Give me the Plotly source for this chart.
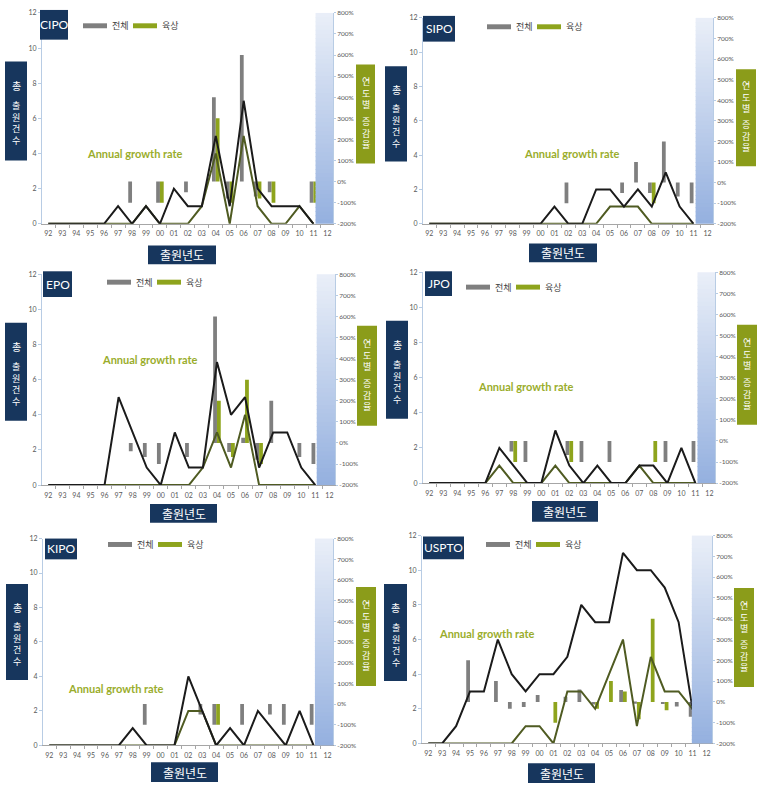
import plotly.graph_objects as go

# ---------------- data ----------------
years = ["92","93","94","95","96","97","98","99","00","01","02","03","04","05","06","07","08","09","10","11","12"]
N = None

offices = ["CIPO", "SIPO", "EPO", "JPO", "KIPO", "USPTO"]

# filing counts (left axis): total (전체) and 육상
cipo_total = [0,0,0,0,0,1,0,1,0,2,1,1,5,1,7,2,1,1,1,0,N]
cipo_land  = [0,0,0,0,0,0,0,1,0,0,0,1,4,0,5,1,0,0,1,0,N]
sipo_total = [0,0,0,0,0,0,0,0,0,1,0,0,2,2,1,2,1,3,1,0,N]
sipo_land  = [0,0,0,0,0,0,0,0,0,0,0,0,0,1,1,1,0,0,0,0,N]
epo_total  = [0,0,0,0,0,5,3,1,0,3,1,1,7,4,5,1,3,3,1,0,N]
epo_land   = [0,0,0,0,0,0,0,0,0,0,0,1,3,1,4,0,0,0,0,0,N]
jpo_total  = [0,0,0,0,0,2,1,0,0,3,1,0,1,0,0,1,1,0,2,0,N]
jpo_land   = [0,0,0,0,0,1,0,0,0,1,0,0,0,0,0,1,0,0,0,0,N]
kipo_total = [0,0,0,0,0,0,1,0,0,0,4,2,0,1,0,2,1,0,2,0,N]
kipo_land  = [0,0,0,0,0,0,0,0,0,0,2,2,0,0,0,0,0,0,0,0,N]
uspto_total = [0,0,1,3,3,6,4,3,4,4,5,8,7,7,11,10,10,9,7,2,0]
uspto_land  = [0,0,0,0,0,0,0,1,1,0,3,3,2,4,6,1,5,3,3,2,0]

# annual growth rate in % (right axis): total (전체) and 육상
cipo_g_total = [N,N,N,N,N,N,-100,N,-100,N,-50,0,400,-80,600,-71,-50,0,0,-100,N]
cipo_g_land  = [N,N,N,N,N,N,N,N,-100,N,N,N,300,-100,N,-80,-100,N,N,-100,N]
sipo_g_total = [N,N,N,N,N,N,N,N,N,N,-100,N,N,0,-50,100,-50,200,-67,-100,N]
sipo_g_land  = [N,N,N,N,N,N,N,N,N,N,N,N,N,N,0,0,-100,N,N,N,N]
epo_g_total  = [N,N,N,N,N,N,-40,-67,-100,N,-67,0,600,-43,25,-80,200,0,-67,-100,N]
epo_g_land   = [N,N,N,N,N,N,N,N,N,N,N,N,200,-67,300,-100,N,N,N,N,N]
jpo_g_total  = [N,N,N,N,N,N,-50,-100,N,N,-67,-100,N,-100,N,N,0,-100,N,-100,N]
jpo_g_land   = [N,N,N,N,N,N,-100,N,N,N,-100,N,N,N,N,N,-100,N,N,N,N]
kipo_g_total = [N,N,N,N,N,N,N,-100,N,N,N,-50,-100,N,-100,N,-50,-100,N,-100,N]
kipo_g_land  = [N,N,N,N,N,N,N,N,N,N,N,0,-100,N,N,N,N,N,N,N,N]
uspto_g_total = [N,N,N,200,0,100,-33,-25,33,0,25,60,-12.5,0,57,-9,0,-10,-22,-71,N]
uspto_g_land  = [N,N,N,N,N,N,N,N,0,-100,N,0,-33,100,50,-83,400,-40,0,-33,N]

counts_total = [cipo_total, sipo_total, epo_total, jpo_total, kipo_total, uspto_total]
counts_land = [cipo_land, sipo_land, epo_land, jpo_land, kipo_land, uspto_land]
growth_total = [cipo_g_total, sipo_g_total, epo_g_total, jpo_g_total, kipo_g_total, uspto_g_total]
growth_land = [cipo_g_land, sipo_g_land, epo_g_land, jpo_g_land, kipo_g_land, uspto_g_land]

left_ticks = [0, 2, 4, 6, 8, 10, 12]
right_ticks = [-200, -100, 0, 100, 200, 300, 400, 500, 600, 700, 800]
right_labels = [f"{v}%" for v in right_ticks]

# ---------------- layout geometry (pixels) ----------------
W, H = 761, 792
plot_px = [(42, 333, 8, 221), (423, 713, 13, 221), (42, 335, 272, 485),
           (423, 715, 270, 483), (43, 333, 539, 748), (422, 712, 536, 746)]
name_box = [(40, 68, 5, 35), (423, 455, 11, 37), (43, 72, 269, 295),
            (425, 452, 269, 294), (45, 77, 539, 560), (423, 464, 537, 560)]
legend_px = [(83, 21), (487, 22), (107, 280), (466, 285), (108, 545), (486, 545)]
left_box = [(5, 27, 57, 157), (385, 407, 62, 158), (5, 27, 321, 420),
            (386, 408, 319, 418), (6, 28, 585, 682), (384, 407, 585, 683)]
right_box = [(356, 375, 60, 160), (736, 756, 65, 163), (357, 377, 324, 425),
             (737, 757, 323, 424), (356, 376, 588, 688), (734, 754, 589, 689)]
bottom_box = [(148, 216, 243, 262), (529, 597, 241, 260), (150, 217, 504, 523),
              (532, 598, 501, 522), (151, 218, 765, 785), (528, 595, 766, 786)]
growth_txt = [(135, 150), (572, 150), (150, 358), (526, 385), (116, 690), (487, 635)]
grad_x0 = [19.15, 19.15, 19.1, 19.15, 19.1, 18.95]

C_GRAY = "#7f7f7f"
C_GREEN = "#8ea41d"
C_BLACK = "#1b1b1b"
C_OLIVE = "#4f5b22"
C_NAVY = "#17365d"
C_GBOX = "#8b9c1a"
C_TXT = "#9aad2b"
C_TICK = "#595959"
C_AXIS = "#b8cce4"
KFONT = "Noto Sans CJK KR"
LFONT = "Lato"

def px(x):
    return x / W

def py(y):
    return 1 - y / H

fig = go.Figure()
layout = dict(width=W, height=H, margin=dict(l=0, r=0, t=0, b=0),
              paper_bgcolor="white", plot_bgcolor="white",
              showlegend=False, barmode="overlay")
shapes = []
annotations = []

def add_text(x, y, text, size, color, family, xanchor="center"):
    annotations.append(dict(xref="paper", yref="paper", x=px(x), y=py(y), text=text,
                            showarrow=False, xanchor=xanchor, yanchor="middle",
                            font=dict(size=size, color=color, family=family)))

for k in range(6):
    xa = "x" if k == 0 else f"x{k+1}"
    yb = f"y{2*k+1}" if k > 0 else "y"   # base axis: growth rate (right side)
    yo = f"y{2*k+2}"                      # overlay axis: counts (left side)
    xkey = "xaxis" if k == 0 else f"xaxis{k+1}"
    ybkey = "yaxis" if k == 0 else f"yaxis{2*k+1}"
    yokey = f"yaxis{2*k+2}"
    L, R, T, B = plot_px[k]

    layout[xkey] = dict(domain=[px(L), px(R)], type="category",
                        categoryorder="array", categoryarray=years,
                        range=[-0.45, 20.4], tickson="boundaries",
                        ticks="outside", ticklen=3, tickcolor="#a6a6a6",
                        showline=True, linecolor="#a6a6a6", linewidth=1,
                        tickangle=0,
                        tickfont=dict(size=7, color=C_TICK, family=LFONT),
                        ticklabelstandoff=3,
                        showgrid=False, zeroline=False, anchor=yb)
    layout[ybkey] = dict(domain=[py(B), py(T)], range=[-200, 800], side="right",
                         tickvals=right_ticks, ticktext=right_labels,
                         ticks="outside", ticklen=2, tickcolor=C_AXIS,
                         showline=True, linecolor=C_AXIS,
                         tickfont=dict(size=6.5, color=C_TICK, family=LFONT),
                         showgrid=False, zeroline=False, anchor=xa)
    layout[yokey] = dict(overlaying=yb, range=[0, 12], side="left",
                         tickvals=left_ticks, ticks="outside", ticklen=3,
                         tickcolor=C_AXIS, showline=True, linecolor=C_AXIS,
                         tickfont=dict(size=7, color=C_TICK, family=LFONT),
                         showgrid=False, zeroline=False, anchor=xa)

    fig.add_trace(go.Bar(x=years, y=growth_total[k], xaxis=xa, yaxis=yb,
                         marker=dict(color=C_GRAY, line=dict(width=0)),
                         width=0.27, offset=-0.27, name="전체"))
    fig.add_trace(go.Bar(x=years, y=growth_land[k], xaxis=xa, yaxis=yb,
                         marker=dict(color=C_GREEN, line=dict(width=0)),
                         width=0.27, offset=0.0, name="육상"))
    fig.add_trace(go.Scatter(x=years, y=counts_land[k], xaxis=xa, yaxis=yo,
                             mode="lines", line=dict(color=C_OLIVE, width=2),
                             connectgaps=False, name="육상 건수"))
    fig.add_trace(go.Scatter(x=years, y=counts_total[k], xaxis=xa, yaxis=yo,
                             mode="lines", line=dict(color=C_BLACK, width=2),
                             connectgaps=False, name="전체 건수"))

    # gradient column on the right
    nstrip = 50
    top_c = (234, 239, 248)
    bot_c = (148, 176, 223)
    for s in range(nstrip):
        f = (s + 0.5) / nstrip
        c = tuple(int(round(top_c[i] + (bot_c[i] - top_c[i]) * f)) for i in range(3))
        shapes.append(dict(type="rect", xref=xa, yref=f"{yb} domain",
                           x0=grad_x0[k], x1=20.4,
                           y0=max(0, 1 - (s + 1) / nstrip - 0.004), y1=1 - s / nstrip,
                           fillcolor=f"rgb{c}", line=dict(width=0),
                           layer="above"))

    def box(b, color):
        shapes.append(dict(type="rect", xref="paper", yref="paper",
                           x0=px(b[0]), x1=px(b[1]), y0=py(b[3]), y1=py(b[2]),
                           fillcolor=color, line=dict(width=0), layer="above"))

    # office name box
    nb = name_box[k]
    box(nb, C_NAVY)
    add_text((nb[0] + nb[1]) / 2, (nb[2] + nb[3]) / 2, offices[k], 12, "white", LFONT)

    # legend
    lx, ly = legend_px[k]
    shapes.append(dict(type="rect", xref="paper", yref="paper", x0=px(lx), x1=px(lx + 24),
                       y0=py(ly + 2.5), y1=py(ly - 2.5), fillcolor=C_GRAY,
                       line=dict(width=0), layer="above"))
    add_text(lx + 27, ly, "전체", 9, "#404040", KFONT, "left")
    shapes.append(dict(type="rect", xref="paper", yref="paper", x0=px(lx + 50), x1=px(lx + 74),
                       y0=py(ly + 2.5), y1=py(ly - 2.5), fillcolor=C_GREEN,
                       line=dict(width=0), layer="above"))
    add_text(lx + 77, ly, "육상", 9, "#404040", KFONT, "left")

    # left vertical title (stacked characters)
    lb = left_box[k]
    box(lb, C_NAVY)
    hb = (lb[3] - lb[2]) / 99
    cx = (lb[0] + lb[1]) / 2
    add_text(cx, lb[2] + 24 * hb, "총", 10, "white", KFONT)
    add_text(cx, lb[2] + 62 * hb, "출<br>원<br>건<br>수", 9, "white", KFONT)

    # right vertical title (stacked characters)
    rb = right_box[k]
    box(rb, C_GBOX)
    hr = (rb[3] - rb[2]) / 100
    cx = (rb[0] + rb[1]) / 2
    add_text(cx, rb[2] + 29 * hr, "연<br>도<br>별", 9, "white", KFONT)
    add_text(cx, rb[2] + 69 * hr, "증<br>감<br>율", 9, "white", KFONT)

    # bottom title
    bb = bottom_box[k]
    box(bb, C_NAVY)
    add_text((bb[0] + bb[1]) / 2, (bb[2] + bb[3]) / 2, "출원년도", 12, "white", KFONT)

    # annual growth rate label
    gx, gy = growth_txt[k]
    add_text(gx, gy, "<b>Annual growth rate</b>", 11, C_TXT, LFONT)

layout["shapes"] = shapes
layout["annotations"] = annotations
fig.update_layout(**layout)
fig.write_html("out.html", config={"displayModeBar": False},
               post_script="document.body.style.margin='0px';document.body.style.overflow='hidden';")
